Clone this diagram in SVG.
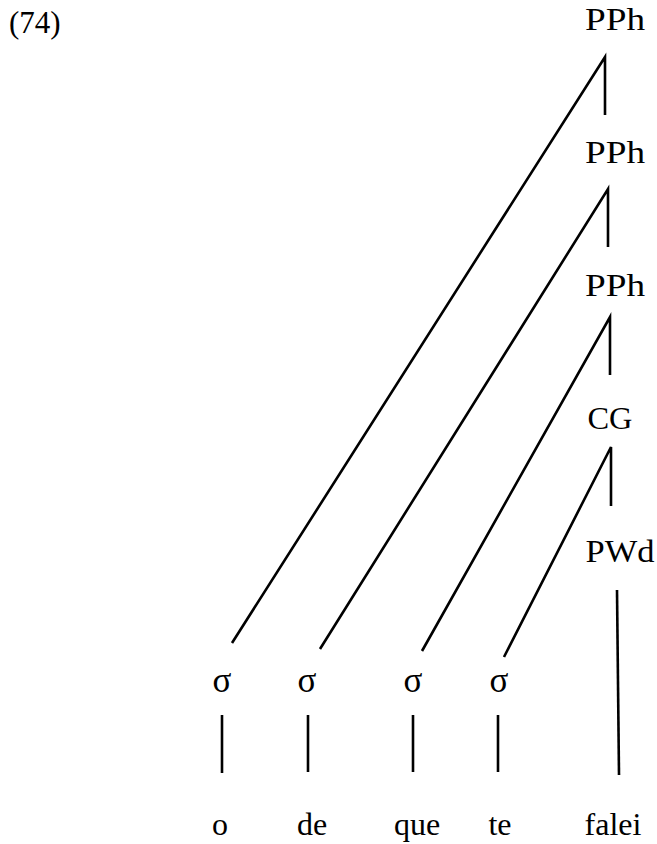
<svg xmlns="http://www.w3.org/2000/svg" width="657" height="844" viewBox="0 0 657 844" font-family="'Liberation Serif', 'DejaVu Serif', serif">
  <style>
    text { font-family: 'Liberation Serif', 'DejaVu Serif', serif; fill: #000; }
    .lbl { font-size: 32px; text-anchor: middle; }
    .syl { font-size: 35px; text-anchor: middle; }
    .num { font-size: 31px; }
    .edge { stroke: #000; stroke-width: 2.6; fill: none; stroke-linecap: butt; }
  </style>
  <rect width="657" height="844" fill="#fff"/>

  <text class="num" x="9" y="33">(74)</text>

  <!-- prosodic constituents -->
  <g id="pph1"><text class="lbl" x="615" y="30" textLength="60" lengthAdjust="spacingAndGlyphs">PPh</text></g>
  <g id="pph2"><text class="lbl" x="615" y="163" textLength="60" lengthAdjust="spacingAndGlyphs">PPh</text></g>
  <g id="pph3"><text class="lbl" x="615" y="296" textLength="60" lengthAdjust="spacingAndGlyphs">PPh</text></g>
  <g id="cg"><text class="lbl" x="610" y="429" textLength="45" lengthAdjust="spacingAndGlyphs">CG</text></g>
  <g id="pwd"><text class="lbl" x="620" y="562" textLength="69" lengthAdjust="spacingAndGlyphs">PWd</text></g>

  <!-- syllables -->
  <g id="syl1"><text class="syl" x="222" y="692">σ</text></g>
  <g id="syl2"><text class="syl" x="307" y="692">σ</text></g>
  <g id="syl3"><text class="syl" x="413" y="692">σ</text></g>
  <g id="syl4"><text class="syl" x="499" y="692">σ</text></g>

  <!-- words -->
  <g id="w-o"><text class="lbl" x="220" y="835">o</text></g>
  <g id="w-de"><text class="lbl" x="312" y="835">de</text></g>
  <g id="w-que"><text class="lbl" x="417" y="835">que</text></g>
  <g id="w-te"><text class="lbl" x="500" y="835">te</text></g>
  <g id="w-falei"><text class="lbl" x="613" y="835">falei</text></g>

  <g id="connectors">
    <!-- branching nodes: vertical daughter + diagonal to syllable -->
    <polyline class="edge" points="232,643 605,57 605,115"/>
    <polyline class="edge" points="320,649 608,189 608,247"/>
    <polyline class="edge" points="422,651 610,317 610,375"/>
    <polyline class="edge" points="504,657 611,447 611,506"/>
    <line class="edge" x1="617" y1="590" x2="619" y2="775"/>
    <!-- syllable to word -->
    <line class="edge" x1="222" y1="715" x2="222" y2="773"/>
    <line class="edge" x1="308" y1="715" x2="308" y2="772"/>
    <line class="edge" x1="413" y1="715" x2="413" y2="772"/>
    <line class="edge" x1="498" y1="715" x2="498" y2="772"/>
  </g>
</svg>
